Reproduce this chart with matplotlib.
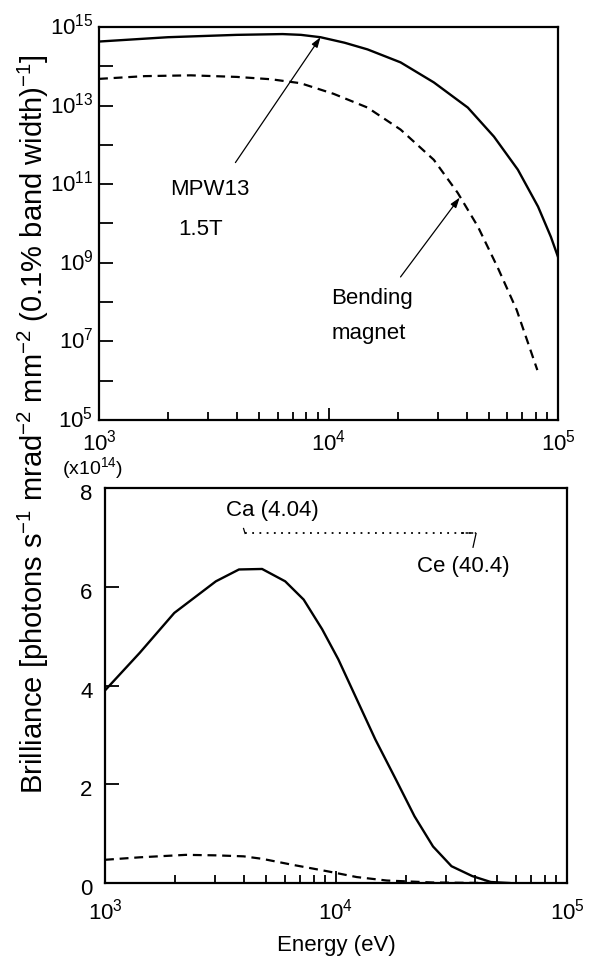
import numpy as np
import matplotlib
matplotlib.use("Agg")
import matplotlib.pyplot as plt
import matplotlib.transforms as mtransforms
from matplotlib import font_manager
from matplotlib.ticker import FixedLocator, FixedFormatter, NullFormatter

# ---------------- data ----------------
# Top panel (log10 of energy in eV, log10 of brilliance)
mpw_top_logE = [3.0, 3.3, 3.6, 3.8, 3.88, 3.965, 4.07, 4.17, 4.314, 4.459, 4.607, 4.721, 4.825, 4.913, 4.969, 5.0]
mpw_top_logB = [14.63, 14.74, 14.80, 14.82, 14.80, 14.74, 14.60, 14.43, 14.10, 13.59, 12.95, 12.21, 11.37, 10.43, 9.66, 9.15]

bm_top_logE = [3.0, 3.2, 3.4, 3.6, 3.75, 3.878, 4.022, 4.17, 4.314, 4.459, 4.563, 4.651, 4.738, 4.82, 4.91]
bm_top_logB = [13.68, 13.75, 13.77, 13.73, 13.67, 13.57, 13.30, 12.95, 12.39, 11.62, 10.78, 9.92, 8.87, 7.80, 6.27]

# Bottom panel (log10 energy, brilliance in units of 1e14)
mpw_bot_logE = [3.0, 3.15, 3.30, 3.48, 3.58, 3.68, 3.78, 3.86, 3.94, 4.01, 4.09, 4.17, 4.26, 4.34, 4.42, 4.50, 4.59, 4.67, 4.75]
mpw_bot_val = [3.9, 4.66, 5.47, 6.11, 6.35, 6.36, 6.11, 5.74, 5.14, 4.53, 3.72, 2.91, 2.09, 1.35, 0.74, 0.34, 0.14, 0.02, 0.0]

bm_bot_logE = [3.0, 3.15, 3.35, 3.48, 3.60, 3.68, 3.81, 3.96, 4.09, 4.22, 4.42, 4.65]
bm_bot_val = [0.47, 0.52, 0.57, 0.56, 0.54, 0.49, 0.37, 0.24, 0.12, 0.05, 0.01, 0.0]

# K-edge markers (keV) and their level (x1e14)
ca_edge_keV = 4.04
ce_edge_keV = 40.4
edge_level = 7.08

top_ytick_exps = list(range(5, 16))
top_ylabel_exps = [5, 7, 9, 11, 13, 15]
x_major_exps = [3, 4, 5]
bot_yticks = [0, 2, 4, 6, 8]

# ---------------- fonts ----------------
names = {f.name for f in font_manager.fontManager.ttflist}
fam = "Liberation Sans Narrow" if "Liberation Sans Narrow" in names else "Liberation Sans"
plt.rcParams["font.family"] = [fam, "DejaVu Sans"]
plt.rcParams["mathtext.fontset"] = "custom"
plt.rcParams["mathtext.rm"] = fam
plt.rcParams["mathtext.it"] = fam + ":italic"
plt.rcParams["mathtext.bf"] = fam + ":bold"
plt.rcParams["mathtext.sf"] = fam

FS = 16
W, H = 595, 965
fig = plt.figure(figsize=(W / 100, H / 100), dpi=100)

def px_axes(l, t, r, b):
    return fig.add_axes([l / W, (H - b) / H, (r - l) / W, (b - t) / H])

ax1 = px_axes(99, 27, 558, 420)
ax2 = px_axes(105, 488, 567, 883)

minor_x = [m * 10.0 ** e for e in (3, 4) for m in range(2, 10)]
xlabels = [r"$10^{%d}$" % e for e in x_major_exps]

for ax in (ax1, ax2):
    ax.set_xscale("log")
    ax.set_xlim(1e3, 1e5)
    ax.xaxis.set_major_locator(FixedLocator([10.0 ** e for e in x_major_exps]))
    ax.xaxis.set_major_formatter(FixedFormatter(xlabels))
    ax.xaxis.set_minor_locator(FixedLocator(minor_x))
    ax.xaxis.set_minor_formatter(NullFormatter())
    ax.tick_params(which="both", direction="in", top=False, right=False, labelsize=FS, width=1.3)
    ax.tick_params(which="major", length=9)
    ax.tick_params(which="minor", length=6)
    for s in ax.spines.values():
        s.set_linewidth(1.6)

ax1.tick_params(axis="x", which="major", pad=7)
ax2.tick_params(axis="x", which="major", pad=11)

# ---- top panel ----
ax1.plot(np.power(10.0, mpw_top_logE), np.power(10.0, mpw_top_logB), color="black", lw=1.7)
ax1.plot(np.power(10.0, bm_top_logE), np.power(10.0, bm_top_logB), color="black", lw=1.6,
         linestyle=(0, (4, 2.6)))
ax1.set_yscale("log")
ax1.set_ylim(1e5, 1e15)
ax1.yaxis.set_major_locator(FixedLocator([10.0 ** e for e in top_ytick_exps]))
ax1.yaxis.set_major_formatter(FixedFormatter(
    [(r"$10^{%d}$" % e if e in top_ylabel_exps else "") for e in top_ytick_exps]))
ax1.yaxis.set_minor_locator(FixedLocator([]))
ax1.tick_params(axis="y", which="major", length=10, pad=4)
up = mtransforms.ScaledTranslation(0, 3 / 100, fig.dpi_scale_trans)
for lab in ax1.get_yticklabels():
    lab.set_transform(lab.get_transform() + up)

arrow_kw = dict(arrowstyle="-|>,head_length=0.6,head_width=0.2", color="black", lw=0.9,
                shrinkA=0, shrinkB=0)
ax1.annotate("", xy=(9230, 10 ** 14.74), xytext=(3930, 10 ** 11.55), arrowprops=arrow_kw)
ax1.annotate("", xy=(37300, 10 ** 10.66), xytext=(20600, 10 ** 8.64), arrowprops=arrow_kw)
ax1.text(3055, 10 ** 10.86, "MPW13", fontsize=FS, ha="center", va="center")
ax1.text(2760, 10 ** 9.84, "1.5T", fontsize=FS, ha="center", va="center")
ax1.text(10300, 10 ** 8.10, "Bending", fontsize=FS, ha="left", va="center")
ax1.text(10300, 10 ** 7.21, "magnet", fontsize=FS, ha="left", va="center")

# ---- bottom panel ----
ax2.plot(np.power(10.0, mpw_bot_logE), mpw_bot_val, color="black", lw=1.7)
ax2.plot(np.power(10.0, bm_bot_logE), bm_bot_val, color="black", lw=1.6, linestyle=(0, (4, 2.6)))
ax2.set_ylim(0, 8)
ax2.yaxis.set_major_locator(FixedLocator(bot_yticks))
ax2.yaxis.set_major_formatter(FixedFormatter([str(v) for v in bot_yticks]))
ax2.tick_params(axis="y", which="major", length=10, pad=9)
down = mtransforms.ScaledTranslation(0, -4 / 100, fig.dpi_scale_trans)
for lab in ax2.get_yticklabels():
    lab.set_transform(lab.get_transform() + down)

ca_eV = ca_edge_keV * 1e3
ce_eV = ce_edge_keV * 1e3
ax2.plot([ca_eV, ce_eV], [edge_level, edge_level], color="black", lw=1.3, linestyle=(0, (1, 3)))
ax2.plot([ca_eV * 0.985, ca_eV], [edge_level + 0.1, edge_level], color="black", lw=0.9)
ax2.plot([ce_eV * 0.86, ce_eV], [edge_level, edge_level], color="black", lw=1.1, linestyle=(0, (2, 1)))
ax2.plot([ce_eV, ce_eV * 0.97], [edge_level, edge_level - 0.28], color="black", lw=0.9)
ax2.text(5290, 7.55, "Ca (4.04)", fontsize=FS, ha="center", va="center")
ax2.text(35500, 6.42, "Ce (40.4)", fontsize=FS, ha="center", va="center")

fig.text(62 / W, 1 - 468 / H, r"(x10$^{14}$)", fontsize=FS - 2, ha="left", va="center")
fig.text(33 / W, 1 - 424 / H,
         r"Brilliance [photons s$^{-1}$ mrad$^{-2}$ mm$^{-2}$ (0.1% band width)$^{-1}$]",
         fontsize=21, rotation=90, ha="center", va="center")
fig.text(336 / W, 1 - 945 / H, "Energy (eV)", fontsize=FS, ha="center", va="center")

fig.savefig("out.png", dpi=100)
